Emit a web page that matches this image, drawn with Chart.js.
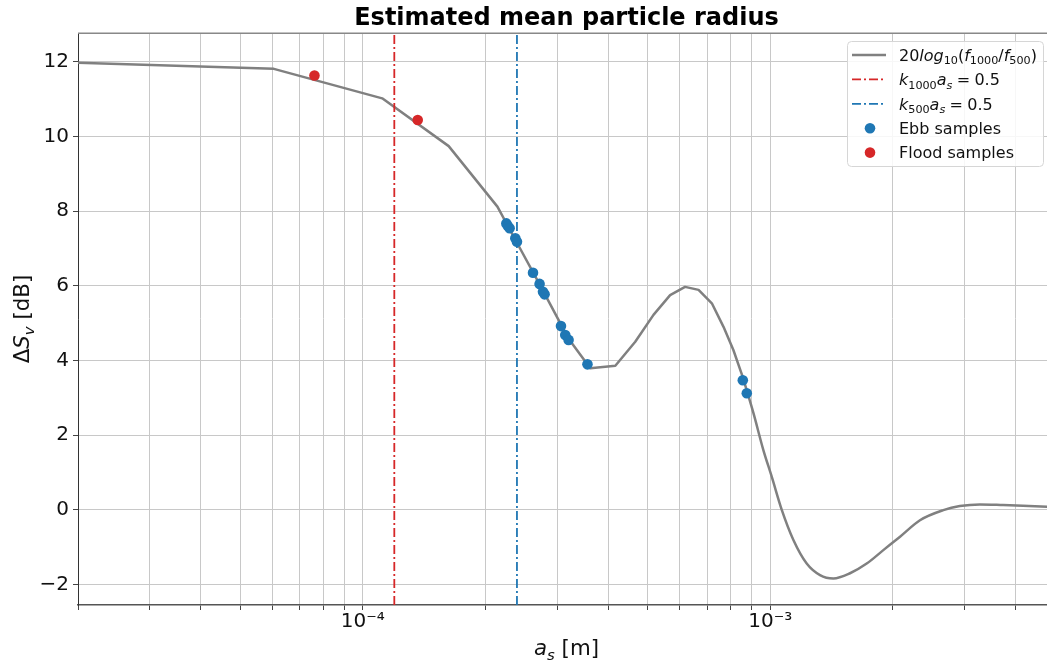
<!DOCTYPE html>
<html><head><meta charset="utf-8">
<script src="https://cdn.jsdelivr.net/npm/chart.js@4"></script>
<style>
html,body{margin:0;padding:0;overflow:hidden;background:#fff;width:1047px;height:662px}
#wrap{position:absolute;left:0;top:0;width:1062px;height:662px}
</style>
</head><body><div id="wrap"><canvas id="c" width="1062" height="662"></canvas></div>
<script>
// ---- data ----
const curveX = [2.0e-5, 6.05e-5, 1.116e-4, 1.625e-4, 2.14e-4, 2.35e-4, 2.75e-4, 3.2e-4, 3.617e-4,
  4.167e-4, 4.664e-4, 5.17e-4, 5.68e-4, 6.18e-4, 6.67e-4, 7.19e-4, 7.68e-4, 8.12e-4, 8.56e-4,
  9.10e-4, 9.62e-4, 1.009e-3, 1.068e-3, 1.14e-3, 1.229e-3, 1.325e-3, 1.429e-3, 1.57e-3, 1.725e-3,
  1.895e-3, 2.083e-3, 2.331e-3, 2.66e-3, 2.92e-3, 3.27e-3, 3.73e-3, 4.78e-3, 5.0e-3];
const curveY = [11.97, 11.81, 11.02, 9.74, 8.12, 7.30, 5.93, 4.58, 3.79,
  3.857, 4.50, 5.22, 5.75, 5.97, 5.89, 5.53, 4.90, 4.28, 3.56,
  2.58, 1.60, 0.88, -0.01, -0.81, -1.44, -1.75, -1.84, -1.70, -1.44,
  -1.08, -0.72, -0.28, -0.01, 0.10, 0.145, 0.126, 0.08, 0.075];
const smoothFrom = 18;   // index where the curve becomes smooth (8.56e-4)
const ebbX = [2.251e-4, 2.27e-4, 2.293e-4, 2.368e-4, 2.39e-4, 2.617e-4, 2.716e-4, 2.769e-4, 2.794e-4,
  3.065e-4, 3.14e-4, 3.2e-4, 3.56e-4, 8.565e-4, 8.76e-4];
const ebbY = [7.67, 7.60, 7.54, 7.27, 7.18, 6.35, 6.05, 5.84, 5.77, 4.92, 4.68, 4.55, 3.895, 3.47, 3.12];
const floodX = [7.61e-5, 1.364e-4];
const floodY = [11.63, 10.44];
const kLineX = [1.195e-4, 2.39e-4];   // k1000 a_s = 0.5 , k500 a_s = 0.5
const xMin = 2e-5, xMax = 5e-3, yMin = -2.55, yMax = 12.77;
const yTicks = [-2, 0, 2, 4, 6, 8, 10, 12];
const xTickValues = [1e-4, 1e-3];
const xTickLabels = ['10\u207B\u2074', '10\u207B\u00B3'];

const FONT = 'DejaVu Sans';
const pts = (xs, ys) => xs.map((x, i) => ({x, y: ys[i]}));

function runsWidth(ctx, runs, size) {
  let w = 0;
  for (const r of runs) {
    if (r.gap) { w += r.gap * size; continue; }
    const sz = r.sub ? size * 0.7 : size;
    ctx.font = (r.it ? 'italic ' : '') + sz + 'px "' + FONT + '"';
    w += ctx.measureText(r.t).width;
  }
  return w;
}
function drawRuns(ctx, runs, x, y, size) {
  let cx = x;
  ctx.textBaseline = 'alphabetic';
  ctx.textAlign = 'left';
  for (const r of runs) {
    if (r.gap) { cx += r.gap * size; continue; }
    const sz = r.sub ? size * 0.7 : size;
    ctx.font = (r.it ? 'italic ' : '') + sz + 'px "' + FONT + '"';
    ctx.fillText(r.t, cx, y + (r.sub ? size * 0.22 : 0));
    cx += ctx.measureText(r.t).width;
  }
}

const decor = {
  id: 'decor',
  afterDraw(chart) {
    const ctx = chart.ctx, a = chart.chartArea;
    ctx.save();
    // top spine
    ctx.strokeStyle = '#888'; ctx.lineWidth = 1.5;
    ctx.beginPath(); ctx.moveTo(a.left, a.top + 0.25); ctx.lineTo(a.right, a.top + 0.25); ctx.stroke();
    ctx.fillStyle = '#111';
    // x title
    const xr = [{t:'a', it:1}, {t:'s', it:1, sub:1}, {t:' [m]'}];
    const xs = 21.33;
    const xw = runsWidth(ctx, xr, xs);
    drawRuns(ctx, xr, (a.left + a.right) / 2 - xw / 2, 655, xs);
    // y title
    const yr = [{t:'\u0394'}, {t:'S', it:1}, {t:'v', it:1, sub:1}, {t:' [dB]'}];
    const yw = runsWidth(ctx, yr, xs);
    ctx.save();
    ctx.translate(29, (a.top + a.bottom) / 2);
    ctx.rotate(-Math.PI / 2);
    drawRuns(ctx, yr, -yw / 2, 0, xs);
    ctx.restore();
    // legend
    const L = 847.5, T = 41.5, W = 196, H = 125, R = 4;
    ctx.beginPath();
    ctx.roundRect(L, T, W, H, R);
    ctx.fillStyle = 'rgba(255,255,255,0.85)';
    ctx.fill();
    ctx.strokeStyle = '#d6d6d6'; ctx.lineWidth = 1; ctx.stroke();
    const fs = 16;
    const rows = [
      {type:'line', color:'#808080', dash:[], lw:2.5,
       runs:[{t:'20'}, {t:'log', it:1}, {t:'10', sub:1}, {t:'('}, {t:'f', it:1}, {t:'1000', sub:1}, {t:'/'}, {t:'f', it:1}, {t:'500', sub:1}, {t:')'}]},
      {type:'line', color:'#d62728', dash:[9,3,2,3], lw:1.8,
       runs:[{t:'k', it:1}, {t:'1000', sub:1}, {t:'a', it:1}, {t:'s', it:1, sub:1}, {gap:0.27}, {t:'='}, {gap:0.27}, {t:'0.5'}]},
      {type:'line', color:'#1f77b4', dash:[9,3,2,3], lw:1.8,
       runs:[{t:'k', it:1}, {t:'500', sub:1}, {t:'a', it:1}, {t:'s', it:1, sub:1}, {gap:0.27}, {t:'='}, {gap:0.27}, {t:'0.5'}]},
      {type:'dot', color:'#1f77b4', runs:[{t:'Ebb samples'}]},
      {type:'dot', color:'#d62728', runs:[{t:'Flood samples'}]}
    ];
    rows.forEach((r, i) => {
      const cy = 55 + i * 24.4;
      if (r.type === 'line') {
        ctx.strokeStyle = r.color; ctx.lineWidth = r.lw; ctx.setLineDash(r.dash);
        ctx.beginPath(); ctx.moveTo(852, cy); ctx.lineTo(886, cy); ctx.stroke();
        ctx.setLineDash([]);
      } else {
        ctx.fillStyle = r.color;
        ctx.beginPath(); ctx.arc(870, cy, 5.3, 0, Math.PI * 2); ctx.fill();
      }
      ctx.fillStyle = '#111';
      drawRuns(ctx, r.runs, 899, cy + 5.8, fs);
    });
    ctx.restore();
  }
};

const curvePts = pts(curveX, curveY);

new Chart(document.getElementById('c'), {
  type: 'scatter',
  data: {
    datasets: [
      {label:'Flood samples', data: pts(floodX, floodY), showLine:false, pointRadius:5.3, pointHoverRadius:5.3,
       pointBackgroundColor:'#d62728', pointBorderWidth:0, order:0},
      {label:'Ebb samples', data: pts(ebbX, ebbY), showLine:false, pointRadius:5.3, pointHoverRadius:5.3,
       pointBackgroundColor:'#1f77b4', pointBorderWidth:0, order:1},
      {label:'k500', data: [{x:kLineX[1], y:yMin}, {x:kLineX[1], y:yMax}], showLine:true, pointRadius:0,
       borderColor:'#1f77b4', borderWidth:1.8, borderDash:[9,3,2,3], order:2},
      {label:'k1000', data: [{x:kLineX[0], y:yMin}, {x:kLineX[0], y:yMax}], showLine:true, pointRadius:0,
       borderColor:'#d62728', borderWidth:1.8, borderDash:[9,3,2,3], order:3},
      {label:'curve', data: curvePts.slice(0, smoothFrom + 1), showLine:true, pointRadius:0, tension:0,
       borderColor:'#808080', borderWidth:2.5, borderJoinStyle:'round', borderCapStyle:'round', order:4},
      {label:'curve (smooth part)', data: curvePts.slice(smoothFrom), showLine:true, pointRadius:0,
       cubicInterpolationMode:'monotone',
       borderColor:'#808080', borderWidth:2.5, borderJoinStyle:'round', borderCapStyle:'round', order:5}
    ]
  },
  options: {
    responsive: false,
    animation: false,
    devicePixelRatio: 1,
    layout: {padding: {left:0, right:7, top:0, bottom:0}},
    plugins: {
      legend: {display:false},
      tooltip: {enabled:false},
      title: {display:true, text:'Estimated mean particle radius', color:'#000', fullSize:false,
              font:{family:FONT, size:24, weight:'bold', lineHeight:1}, padding:{top:7, bottom:2}}
    },
    scales: {
      x: {
        type:'logarithmic', min:xMin, max:xMax,
        afterFit(s) { s.height = 57; },
        afterBuildTicks(s) {
          const t = [];
          for (let e = -5; e <= -3; e++) for (let m = 1; m <= 9; m++) {
            const v = m * Math.pow(10, e);
            if (v >= xMin * 0.9999 && v <= xMax * 1.0001) t.push({value: v});
          }
          s.ticks = t;
        },
        ticks: {
          autoSkip:false, maxRotation:0, padding:0, color:'#111',
          font:{family:FONT, size:20},
          callback(v) {
            const i = xTickValues.findIndex(t => Math.abs(t - v) / t < 1e-6);
            return i >= 0 ? xTickLabels[i] : '';
          }
        },
        grid: {color:'#c8c8c8', lineWidth:1, tickLength:5, tickColor:'#444'},
        border: {color:'#555', width:1.5}
      },
      y: {
        min:yMin, max:yMax,
        afterFit(s) { s.width = 78; },
        afterBuildTicks(s) { s.ticks = yTicks.map(v => ({value: v})); },
        ticks: {padding:4, color:'#111', font:{family:FONT, size:20},
                callback: v => String(v).replace('-', '\u2212')},
        grid: {color:'#c8c8c8', lineWidth:1, tickLength:5, tickColor:'#444'},
        border: {color:'#333', width:1}
      }
    }
  },
  plugins: [decor]
});
</script>
</body></html>
